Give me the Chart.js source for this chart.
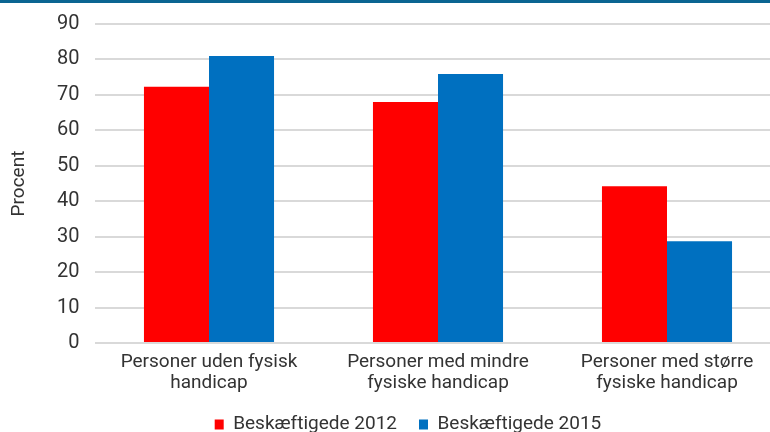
<!DOCTYPE html>
<html>
<head>
<meta charset="utf-8">
<script src="https://cdn.jsdelivr.net/npm/chart.js@4/dist/chart.umd.min.js"></script>
<style>
  html, body { margin: 0; padding: 0; background: #fff; overflow: hidden; }
  #wrap { position: relative; width: 770px; height: 432px; overflow: hidden; }
  #band { position: absolute; left: 0; top: 0; width: 770px; height: 3px; background: #0b6592; z-index: 2; }
  canvas { position: absolute; left: 0; top: 0; }
</style>
</head>
<body>
<div id="wrap">
  <div id="band"></div>
  <canvas id="c" width="816" height="432"></canvas>
</div>
<script>
const categories = [
  ["Personer uden fysisk", "handicap"],
  ["Personer med mindre", "fysiske handicap"],
  ["Personer med større", "fysiske handicap"]
];
const seriesNames = ["Beskæftigede 2012", "Beskæftigede 2015"];
const values2012 = [72.3, 68.0, 44.2];
const values2015 = [81.0, 75.9, 28.7];
const yTitle = "Procent";

const FONT = "Roboto, 'Liberation Sans', sans-serif";
const TEXT = "#333333";

new Chart(document.getElementById('c'), {
  type: 'bar',
  data: {
    labels: categories,
    datasets: [
      { label: seriesNames[0], data: values2012, backgroundColor: '#ff0000', borderWidth: 0 },
      { label: seriesNames[1], data: values2015, backgroundColor: '#0070c0', borderWidth: 0 }
    ]
  },
  options: {
    responsive: false,
    animation: false,
    devicePixelRatio: 1,
    layout: { padding: { left: 34.5, right: 34.5, top: 24, bottom: -12 } },
    datasets: { bar: { categoryPercentage: 0.568, barPercentage: 1.0 } },
    plugins: {
      legend: {
        position: 'bottom',
        labels: {
          color: TEXT,
          font: { family: FONT, size: 19 },
          boxWidth: 9,
          boxHeight: 10,
          padding: 22
        }
      },
      tooltip: { enabled: false }
    },
    scales: {
      x: {
        grid: { display: false, drawTicks: false },
        border: { display: false },
        ticks: {
          color: TEXT,
          font: { family: FONT, size: 19, lineHeight: 1.1 },
          padding: 9,
          maxRotation: 0,
          autoSkip: false
        },
        afterFit: (s) => { s.height = 50; }
      },
      y: {
        min: 0, max: 90,
        grid: { color: '#d9d9d9', lineWidth: 2, drawTicks: false },
        border: { display: false },
        ticks: {
          stepSize: 10,
          color: TEXT,
          font: { family: FONT, size: 20 },
          padding: 15
        },
        title: {
          display: true,
          text: yTitle,
          color: TEXT,
          font: { family: FONT, size: 19 },
          padding: { top: -27, bottom: 0 }
        },
        afterFit: (s) => { s.width = 60; s.paddingTop = 0; s.paddingBottom = 0; }
      }
    }
  }
});
</script>
</body>
</html>
